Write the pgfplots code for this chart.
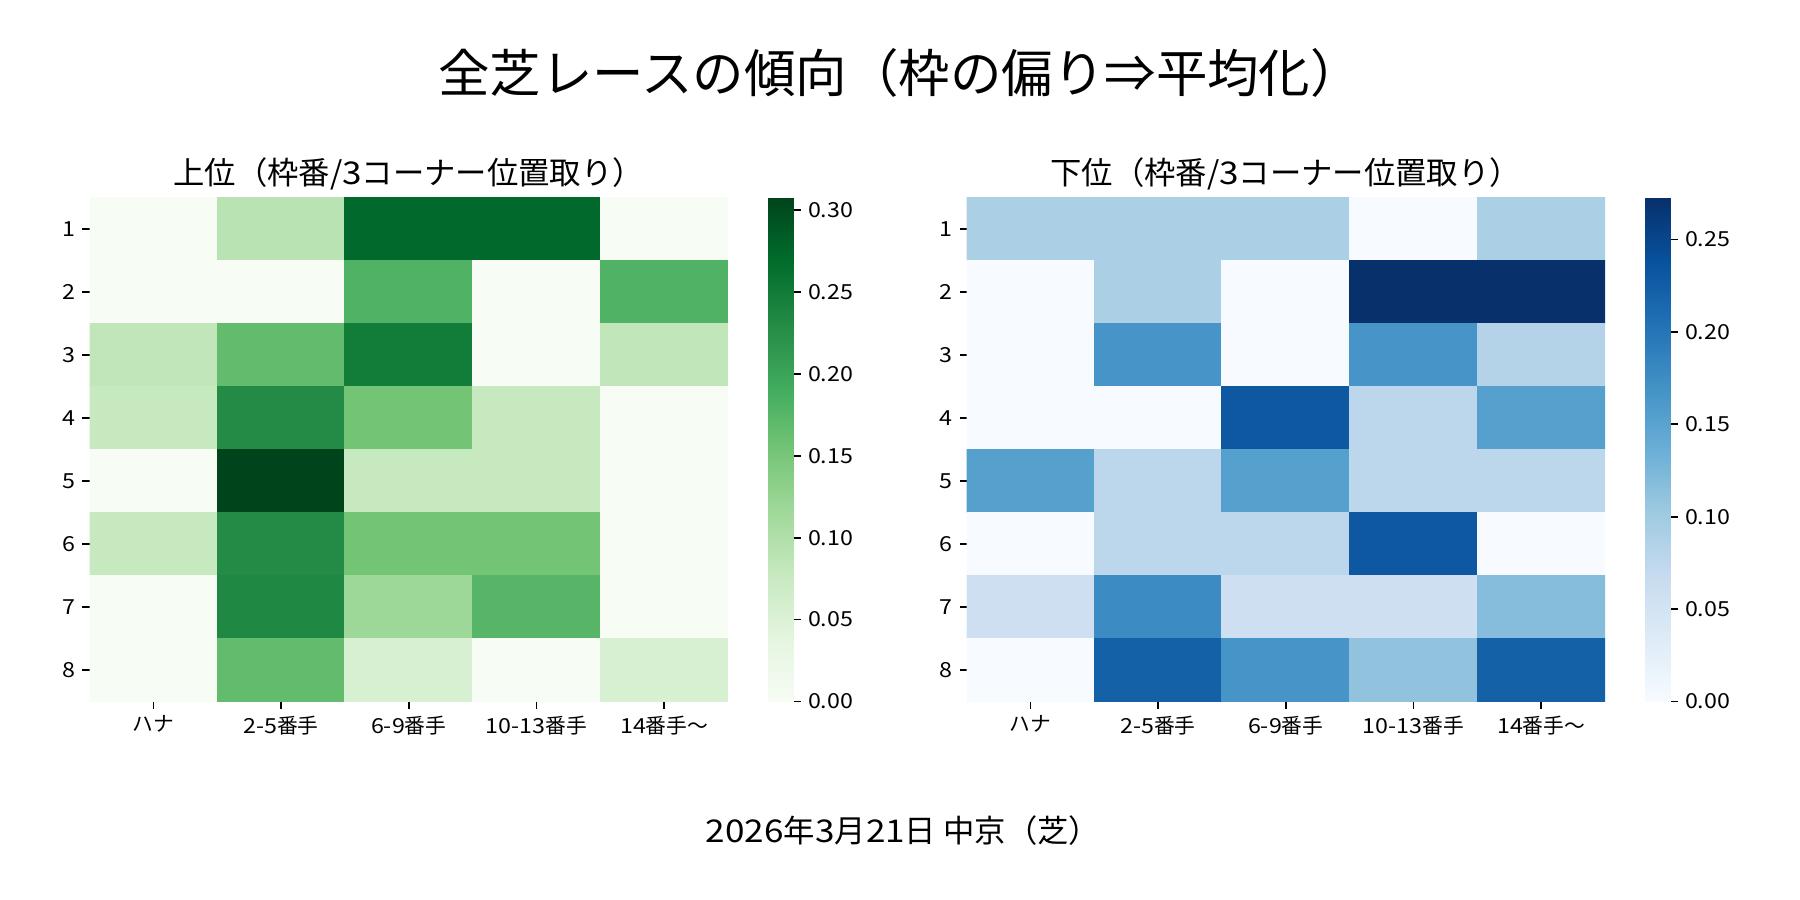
\documentclass[border=0pt]{standalone}
\usepackage{fontspec}
\setmainfont{Noto Sans CJK JP}
\newfontfamily\widefont[FakeStretch=1.12]{Noto Sans CJK JP}
\usepackage{pgfplots}
\pgfplotsset{compat=1.18}
\newlength\px
\setlength\px{0.0066667in}
\pgfplotsset{
  hm/.style={
    anchor=south west, scale only axis, width=638.5\px, height=504\px,
    xmin=-0.5, xmax=4.5, ymin=0.5, ymax=8.5, y dir=reverse,
    axis line style={draw=none},
    xtick={0,1,2,3,4}, xticklabels={ハナ,{\widefont 2-5}番手,{\widefont 6-9}番手,{\widefont 10-13}番手,{\widefont 14}番手〜},
    ytick={1,2,3,4,5,6,7,8}, yticklabels={1,2,3,4,5,6,7,8},
    xtick pos=bottom, ytick pos=left, tick align=outside,
    major tick length=7\px,
    tick style={black, line width=0.8pt},
    xticklabel style={font=\fontsize{10}{12}\selectfont, black},
    yticklabel style={font=\fontsize{10}{12}\selectfont\widefont, black},
    point meta min=0,
    colorbar,
    colorbar style={
      at={(parent axis.north east)}, anchor=north west, xshift=23\px,
      scale only axis, width=25\px, height=504\px,
      axis line style={draw=none},
      ytick pos=right, yticklabel pos=right, tick align=outside,
      major tick length=7\px,
      tick style={black, line width=0.8pt},
      yticklabel style={font=\fontsize{10}{12}\selectfont\widefont, black,
        /pgf/number format/.cd, fixed, fixed zerofill, precision=2, assume math mode=true},
    },
  },
}
\begin{document}
\begin{tikzpicture}[x=1\px,y=1\px]
\useasboundingbox (0,0) rectangle (1800,900);
\begin{axis}[hm, at={(89.5\px,198.5\px)},
  colormap={greens}{rgb255=(247,252,245) rgb255=(229,245,224) rgb255=(199,233,192) rgb255=(161,217,155) rgb255=(116,196,118) rgb255=(65,171,93) rgb255=(35,139,69) rgb255=(0,109,44) rgb255=(0,68,27)},
  point meta max=0.3077,
  colorbar style={ytick={0,0.05,0.10,0.15,0.20,0.25,0.30}},
]
\addplot[matrix plot*, mesh/cols=5, point meta=explicit] table[meta=c] {
x y c
0 1 0
1 1 0.0909
2 1 0.2727
3 1 0.2727
4 1 0
0 2 0
1 2 0
2 2 0.1818
3 2 0
4 2 0.1818
0 3 0.0833
1 3 0.1667
2 3 0.25
3 3 0
4 3 0.0833
0 4 0.0769
1 4 0.2308
2 4 0.1538
3 4 0.0769
4 4 0
0 5 0
1 5 0.3077
2 5 0.0769
3 5 0.0769
4 5 0
0 6 0.0769
1 6 0.2308
2 6 0.1538
3 6 0.1538
4 6 0
0 7 0
1 7 0.2353
2 7 0.1176
3 7 0.1765
4 7 0
0 8 0
1 8 0.1667
2 8 0.0556
3 8 0
4 8 0.0556
};
\end{axis}
\begin{axis}[hm, at={(966.5\px,198.5\px)},
  colormap={blues}{rgb255=(247,251,255) rgb255=(222,235,247) rgb255=(198,219,239) rgb255=(158,202,225) rgb255=(107,174,214) rgb255=(66,146,198) rgb255=(33,113,181) rgb255=(8,81,156) rgb255=(8,48,107)},
  point meta max=0.2727,
  colorbar style={ytick={0,0.05,0.10,0.15,0.20,0.25}},
]
\addplot[matrix plot*, mesh/cols=5, point meta=explicit] table[meta=c] {
x y c
0 1 0.0909
1 1 0.0909
2 1 0.0909
3 1 0
4 1 0.0909
0 2 0
1 2 0.0909
2 2 0
3 2 0.2727
4 2 0.2727
0 3 0
1 3 0.1667
2 3 0
3 3 0.1667
4 3 0.0833
0 4 0
1 4 0
2 4 0.2308
3 4 0.0769
4 4 0.1538
0 5 0.1538
1 5 0.0769
2 5 0.1538
3 5 0.0769
4 5 0.0769
0 6 0
1 6 0.0769
2 6 0.0769
3 6 0.2308
4 6 0
0 7 0.0588
1 7 0.1765
2 7 0.0588
3 7 0.0588
4 7 0.1176
0 8 0
1 8 0.2222
2 8 0.1667
3 8 0.1111
4 8 0.2222
};
\end{axis}
\node[font=\fontsize{24.8}{29}\selectfont] at (900,826.7) {全芝レースの傾向（枠の偏り⇒平均化）};
\node[font=\fontsize{15.1}{18}\selectfont] at (408.75,725.8) {上位（枠番/{\widefont 3}コーナー位置取り）};
\node[font=\fontsize{15.1}{18}\selectfont] at (1285.75,725.8) {下位（枠番/{\widefont 3}コーナー位置取り）};
\node[font=\fontsize{15.1}{18}\selectfont] at (903,69.5) {{\widefont 2026}年{\widefont 3}月{\widefont 21}日 中京（芝）};
\end{tikzpicture}
\end{document}
